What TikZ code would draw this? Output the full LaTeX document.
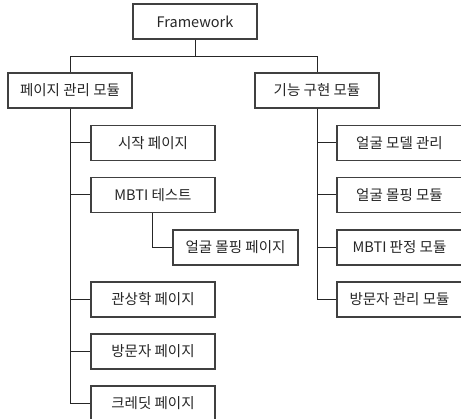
\documentclass[tikz,border=0pt]{standalone}
\usepackage{fontspec}
\setmainfont{Noto Sans CJK KR}
\begin{document}
\begin{tikzpicture}[x=1pt,y=-1pt,
  box/.style={draw=black!75, line width=1.1pt, fill=white, minimum width=124pt, minimum height=35pt, inner sep=0pt, font=\fontsize{14.5}{16}\selectfont, text=black!85},
  conn/.style={draw=black!85, line width=1pt}]
\useasboundingbox (0,0) rectangle (461,419);
\clip (0,0) rectangle (461,419);
\fill[white] (0,0) rectangle (461,419);
\node[box] (fw) at (195,21.5) {Framework};
\node[box] (page) at (70,90.5) {페이지 관리 모듈};
\node[box] (feat) at (317,90.5) {기능 구현 모듈};
\node[box] (start) at (153,143) {시작 페이지};
\node[box] (mbti) at (153,195) {MBTI 테스트};
\node[box, minimum width=125pt] (morph) at (235.5,247.5) {얼굴 몰핑 페이지};
\node[box] (face) at (153,299.5) {관상학 페이지};
\node[box] (visit) at (153,351.5) {방문자 페이지};
\node[box] (credit) at (153,403.5) {크레딧 페이지};
\node[box, minimum width=125pt] (model) at (399.5,143) {얼굴 모델 관리};
\node[box, minimum width=125pt] (morphm) at (399.5,195) {얼굴 몰핑 모듈};
\node[box, minimum width=125pt] (judge) at (399.5,247.5) {MBTI 판정 모듈};
\node[box, minimum width=125pt] (vman) at (399.5,299.5) {방문자 관리 모듈};
\coordinate (split) at (195,57);
\draw[conn] (fw.south) -- (split) -| (page.north);
\draw[conn] (split) -| (feat.north);
\foreach \c in {start,mbti,face,visit,credit}{
  \draw[conn] (page.south) |- (\c.west);
}
\foreach \c in {model,morphm,judge,vman}{
  \draw[conn] (feat.south) |- (\c.west);
}
\draw[conn] ([xshift=-1pt]mbti.south) |- (morph.west);
\end{tikzpicture}
\end{document}
